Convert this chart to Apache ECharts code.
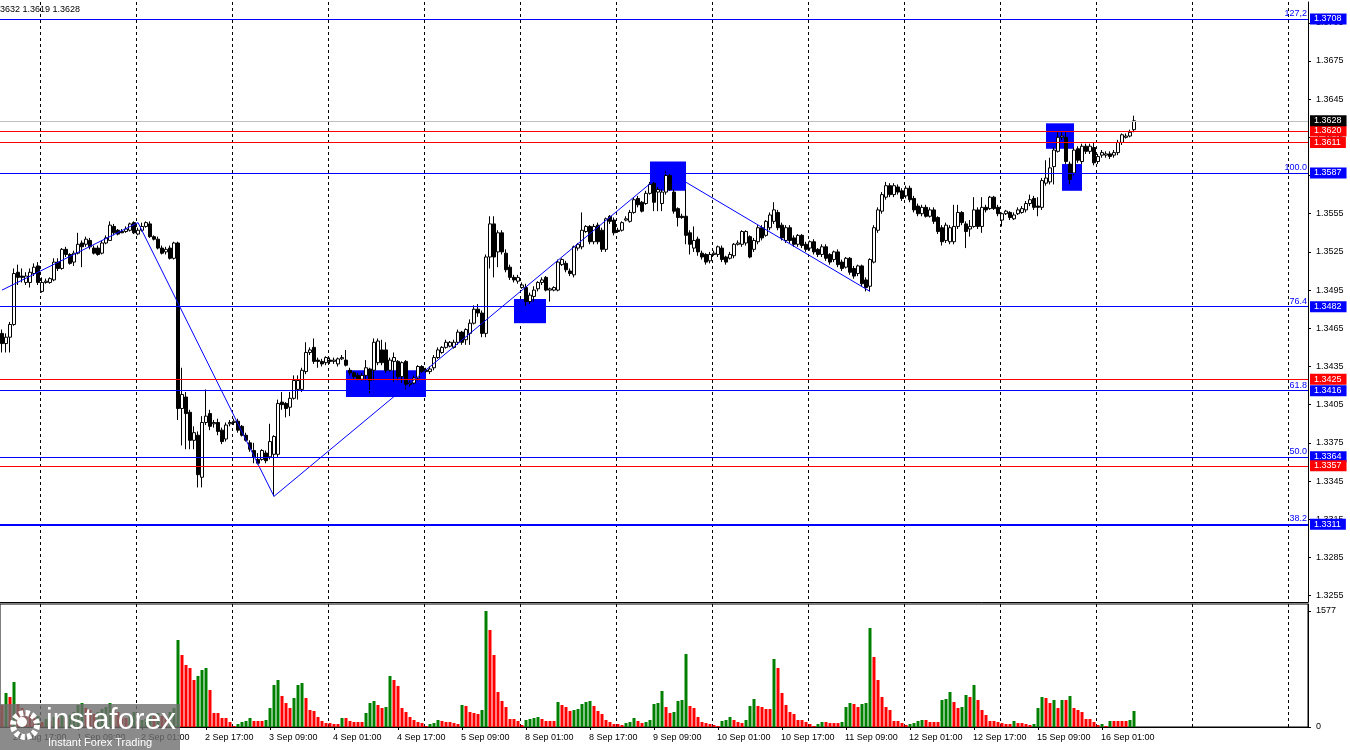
<!DOCTYPE html>
<html><head><meta charset="utf-8">
<script src="https://cdn.jsdelivr.net/npm/echarts@6/dist/echarts.min.js"></script>
<style>html,body{margin:0;padding:0;background:#fff;overflow:hidden}#c{width:1350px;height:750px}</style>
</head><body><div id="c"></div>
<script>
// ---- data: GBPUSD H1 candles [open, close, low, high] ----
const candles = [
[1.3461,1.3453,1.3446,1.3464],[1.3453,1.3458,1.3446,1.3461],[1.3458,1.3468,1.3446,1.3470],[1.3468,1.3508,1.3467,1.3512],
[1.3509,1.3505,1.3499,1.3515],[1.3506,1.3505,1.3501,1.3512],[1.3501,1.3506,1.3499,1.3509],[1.3501,1.3509,1.3497,1.3512],
[1.3508,1.3513,1.3506,1.3516],[1.3514,1.3501,1.3499,1.3517],[1.3494,1.3501,1.3493,1.3505],[1.3501,1.3502,1.3500,1.3504],
[1.3501,1.3504,1.3500,1.3505],[1.3503,1.3517,1.3502,1.3520],[1.3517,1.3512,1.3510,1.3520],[1.3512,1.3527,1.3511,1.3528],
[1.3527,1.3523,1.3521,1.3529],[1.3523,1.3516,1.3515,1.3524],[1.3517,1.3524,1.3514,1.3526],[1.3524,1.3531,1.3523,1.3540],
[1.3532,1.3529,1.3513,1.3534],[1.3531,1.3535,1.3529,1.3537],[1.3534,1.3529,1.3527,1.3536],[1.3528,1.3524,1.3523,1.3530],
[1.3528,1.3523,1.3522,1.3530],[1.3524,1.3532,1.3523,1.3534],[1.3532,1.3536,1.3531,1.3538],[1.3534,1.3546,1.3534,1.3549],
[1.3545,1.3540,1.3538,1.3547],[1.3542,1.3539,1.3538,1.3543],[1.3541,1.3540,1.3540,1.3543],[1.3541,1.3543,1.3540,1.3545],
[1.3542,1.3547,1.3541,1.3548],[1.3548,1.3540,1.3539,1.3549],[1.3539,1.3542,1.3538,1.3544],[1.3542,1.3545,1.3541,1.3548],
[1.3545,1.3548,1.3544,1.3549],[1.3547,1.3537,1.3536,1.3549],[1.3537,1.3535,1.3534,1.3538],[1.3535,1.3528,1.3527,1.3537],
[1.3528,1.3524,1.3523,1.3530],[1.3525,1.3527,1.3523,1.3529],[1.3528,1.3520,1.3519,1.3530],[1.3520,1.3532,1.3519,1.3533],
[1.3532,1.3402,1.3393,1.3533],[1.3402,1.3413,1.3373,1.3434],[1.3411,1.3398,1.3370,1.3415],[1.3399,1.3377,1.3370,1.3401],
[1.3377,1.3383,1.3370,1.3388],[1.3381,1.3350,1.3340,1.3384],[1.3348,1.3391,1.3340,1.3396],[1.3391,1.3396,1.3389,1.3417],
[1.3398,1.3388,1.3385,1.3401],[1.3390,1.3391,1.3387,1.3393],[1.3391,1.3384,1.3381,1.3394],[1.3385,1.3376,1.3374,1.3387],
[1.3378,1.3389,1.3376,1.3391],[1.3390,1.3391,1.3388,1.3393],[1.3391,1.3392,1.3389,1.3394],[1.3392,1.3385,1.3383,1.3394],
[1.3388,1.3381,1.3380,1.3389],[1.3381,1.3377,1.3376,1.3383],[1.3375,1.3370,1.3368,1.3377],[1.3369,1.3364,1.3359,1.3375],
[1.3362,1.3359,1.3358,1.3367],[1.3362,1.3369,1.3361,1.3370],[1.3367,1.3361,1.3359,1.3369],[1.3364,1.3376,1.3362,1.3390],
[1.3366,1.3380,1.3333,1.3381],[1.3366,1.3406,1.3364,1.3409],[1.3407,1.3405,1.3401,1.3415],[1.3406,1.3402,1.3395,1.3407],
[1.3403,1.3410,1.3396,1.3415],[1.3410,1.3424,1.3409,1.3428],[1.3417,1.3424,1.3409,1.3428],[1.3417,1.3432,1.3415,1.3434],
[1.3431,1.3446,1.3429,1.3454],[1.3446,1.3448,1.3444,1.3450],[1.3450,1.3439,1.3437,1.3457],[1.3440,1.3439,1.3434,1.3442],
[1.3439,1.3437,1.3435,1.3441],[1.3438,1.3442,1.3436,1.3443],[1.3440,1.3439,1.3437,1.3442],[1.3439,1.3440,1.3437,1.3442],
[1.3437,1.3441,1.3435,1.3442],[1.3441,1.3442,1.3440,1.3444],[1.3440,1.3436,1.3435,1.3448],[1.3432,1.3430,1.3428,1.3434],
[1.3430,1.3427,1.3425,1.3431],[1.3428,1.3425,1.3424,1.3430],[1.3425,1.3428,1.3424,1.3430],[1.3428,1.3434,1.3424,1.3440],
[1.3433,1.3424,1.3414,1.3434],[1.3432,1.3454,1.3424,1.3457],[1.3438,1.3455,1.3436,1.3457],[1.3448,1.3438,1.3436,1.3456],
[1.3448,1.3432,1.3430,1.3454],[1.3432,1.3440,1.3431,1.3442],[1.3439,1.3442,1.3423,1.3446],[1.3439,1.3427,1.3424,1.3440],
[1.3427,1.3438,1.3422,1.3439],[1.3439,1.3421,1.3417,1.3440],[1.3422,1.3421,1.3419,1.3424],[1.3422,1.3426,1.3421,1.3428],
[1.3426,1.3435,1.3424,1.3436],[1.3435,1.3431,1.3430,1.3436],[1.3432,1.3431,1.3430,1.3434],[1.3431,1.3433,1.3429,1.3435],
[1.3434,1.3442,1.3432,1.3444],[1.3442,1.3448,1.3441,1.3450],[1.3446,1.3450,1.3445,1.3451],[1.3450,1.3454,1.3449,1.3456],
[1.3451,1.3454,1.3450,1.3455],[1.3450,1.3454,1.3449,1.3456],[1.3454,1.3462,1.3452,1.3464],[1.3462,1.3454,1.3452,1.3463],
[1.3456,1.3464,1.3452,1.3465],[1.3461,1.3469,1.3452,1.3472],[1.3469,1.3480,1.3468,1.3483],[1.3480,1.3477,1.3474,1.3484],
[1.3477,1.3461,1.3458,1.3479],[1.3461,1.3521,1.3458,1.3523],[1.3521,1.3547,1.3512,1.3553],[1.3547,1.3521,1.3505,1.3553],
[1.3525,1.3540,1.3513,1.3542],[1.3540,1.3525,1.3523,1.3542],[1.3524,1.3511,1.3509,1.3527],[1.3513,1.3505,1.3503,1.3515],
[1.3505,1.3503,1.3501,1.3507],[1.3502,1.3505,1.3500,1.3507],[1.3497,1.3499,1.3496,1.3501],[1.3497,1.3486,1.3482,1.3500],
[1.3486,1.3491,1.3484,1.3493],[1.3490,1.3495,1.3486,1.3498],[1.3496,1.3501,1.3494,1.3502],[1.3501,1.3503,1.3499,1.3505],
[1.3505,1.3495,1.3494,1.3506],[1.3495,1.3496,1.3486,1.3497],[1.3495,1.3497,1.3494,1.3498],[1.3495,1.3517,1.3494,1.3519],
[1.3515,1.3519,1.3514,1.3520],[1.3516,1.3511,1.3509,1.3518],[1.3510,1.3508,1.3506,1.3512],[1.3507,1.3529,1.3505,1.3530],
[1.3528,1.3531,1.3526,1.3532],[1.3529,1.3542,1.3527,1.3556],[1.3541,1.3545,1.3540,1.3546],[1.3545,1.3533,1.3531,1.3546],
[1.3533,1.3545,1.3531,1.3547],[1.3546,1.3533,1.3531,1.3548],[1.3542,1.3527,1.3525,1.3544],[1.3527,1.3551,1.3525,1.3552],
[1.3553,1.3549,1.3547,1.3554],[1.3550,1.3540,1.3538,1.3552],[1.3542,1.3541,1.3540,1.3544],[1.3542,1.3548,1.3541,1.3549],
[1.3550,1.3551,1.3549,1.3553],[1.3549,1.3556,1.3548,1.3558],[1.3556,1.3566,1.3555,1.3568],[1.3567,1.3562,1.3560,1.3569],
[1.3564,1.3557,1.3556,1.3565],[1.3563,1.3571,1.3562,1.3573],[1.3571,1.3578,1.3570,1.3580],[1.3579,1.3564,1.3557,1.3580],
[1.3572,1.3574,1.3557,1.3576],[1.3563,1.3572,1.3557,1.3574],[1.3572,1.3585,1.3570,1.3589],[1.3585,1.3574,1.3573,1.3587],
[1.3572,1.3557,1.3555,1.3574],[1.3559,1.3552,1.3545,1.3560],[1.3553,1.3552,1.3551,1.3555],[1.3553,1.3538,1.3531,1.3574],
[1.3540,1.3531,1.3523,1.3542],[1.3528,1.3534,1.3525,1.3545],[1.3535,1.3525,1.3522,1.3537],[1.3524,1.3521,1.3519,1.3526],
[1.3523,1.3517,1.3515,1.3524],[1.3518,1.3523,1.3516,1.3525],[1.3523,1.3524,1.3522,1.3526],[1.3523,1.3529,1.3521,1.3530],
[1.3528,1.3519,1.3517,1.3530],[1.3521,1.3517,1.3515,1.3522],[1.3520,1.3523,1.3519,1.3525],[1.3522,1.3531,1.3520,1.3532],
[1.3531,1.3532,1.3530,1.3534],[1.3531,1.3541,1.3529,1.3542],[1.3532,1.3541,1.3530,1.3542],[1.3537,1.3521,1.3520,1.3538],
[1.3527,1.3534,1.3525,1.3536],[1.3533,1.3544,1.3531,1.3546],[1.3544,1.3536,1.3534,1.3546],[1.3538,1.3549,1.3537,1.3550],
[1.3544,1.3554,1.3542,1.3556],[1.3549,1.3558,1.3547,1.3564],[1.3556,1.3544,1.3542,1.3558],[1.3546,1.3536,1.3534,1.3548],
[1.3534,1.3544,1.3532,1.3546],[1.3544,1.3534,1.3532,1.3546],[1.3536,1.3531,1.3529,1.3538],[1.3531,1.3538,1.3529,1.3539],
[1.3538,1.3530,1.3528,1.3539],[1.3531,1.3527,1.3525,1.3533],[1.3528,1.3533,1.3526,1.3534],[1.3533,1.3525,1.3523,1.3535],
[1.3527,1.3523,1.3521,1.3528],[1.3523,1.3529,1.3521,1.3531],[1.3529,1.3520,1.3518,1.3531],[1.3523,1.3517,1.3515,1.3524],
[1.3519,1.3525,1.3517,1.3526],[1.3525,1.3515,1.3513,1.3527],[1.3517,1.3512,1.3510,1.3519],[1.3513,1.3520,1.3512,1.3521],
[1.3520,1.3509,1.3507,1.3521],[1.3512,1.3506,1.3504,1.3514],[1.3508,1.3514,1.3506,1.3515],[1.3514,1.3500,1.3498,1.3515],
[1.3503,1.3497,1.3494,1.3505],[1.3498,1.3519,1.3494,1.3520],[1.3517,1.3544,1.3516,1.3546],[1.3542,1.3558,1.3540,1.3560],
[1.3557,1.3570,1.3555,1.3572],[1.3568,1.3577,1.3566,1.3580],[1.3577,1.3570,1.3568,1.3579],[1.3570,1.3577,1.3568,1.3579],
[1.3576,1.3572,1.3570,1.3578],[1.3573,1.3567,1.3565,1.3575],[1.3569,1.3575,1.3567,1.3577],[1.3575,1.3566,1.3564,1.3577],
[1.3567,1.3558,1.3556,1.3569],[1.3561,1.3555,1.3553,1.3563],[1.3555,1.3560,1.3553,1.3562],[1.3560,1.3553,1.3552,1.3562],
[1.3553,1.3558,1.3552,1.3560],[1.3558,1.3549,1.3547,1.3560],[1.3552,1.3541,1.3539,1.3553],[1.3544,1.3533,1.3530,1.3546],
[1.3534,1.3546,1.3532,1.3548],[1.3533,1.3544,1.3531,1.3546],[1.3533,1.3545,1.3531,1.3562],[1.3545,1.3556,1.3543,1.3562],
[1.3556,1.3548,1.3546,1.3557],[1.3547,1.3541,1.3528,1.3549],[1.3543,1.3545,1.3537,1.3550],[1.3545,1.3558,1.3544,1.3568],
[1.3558,1.3545,1.3543,1.3560],[1.3545,1.3560,1.3540,1.3568],[1.3560,1.3558,1.3556,1.3562],[1.3559,1.3568,1.3558,1.3569],
[1.3568,1.3559,1.3558,1.3569],[1.3560,1.3555,1.3553,1.3562],[1.3550,1.3555,1.3545,1.3556],[1.3555,1.3557,1.3554,1.3558],
[1.3556,1.3552,1.3550,1.3557],[1.3551,1.3554,1.3550,1.3556],[1.3555,1.3558,1.3554,1.3560],[1.3556,1.3559,1.3555,1.3561],
[1.3558,1.3563,1.3556,1.3565],[1.3563,1.3566,1.3561,1.3570],[1.3567,1.3560,1.3558,1.3569],[1.3561,1.3560,1.3553,1.3568],
[1.3560,1.3581,1.3558,1.3583],[1.3579,1.3583,1.3577,1.3597],[1.3580,1.3591,1.3578,1.3599],[1.3592,1.3605,1.3578,1.3607],
[1.3604,1.3615,1.3603,1.3619],[1.3615,1.3616,1.3613,1.3619],[1.3615,1.3596,1.3594,1.3619],[1.3594,1.3582,1.3578,1.3596],
[1.3587,1.3605,1.3585,1.3607],[1.3606,1.3597,1.3595,1.3608],[1.3596,1.3608,1.3594,1.3610],[1.3608,1.3604,1.3602,1.3610],
[1.3604,1.3608,1.3602,1.3610],[1.3607,1.3595,1.3593,1.3611],[1.3596,1.3600,1.3594,1.3602],[1.3601,1.3603,1.3599,1.3605],
[1.3601,1.3602,1.3599,1.3604],[1.3602,1.3600,1.3598,1.3604],[1.3601,1.3603,1.3599,1.3605],[1.3603,1.3611,1.3601,1.3613],
[1.3611,1.3617,1.3609,1.3618],[1.3615,1.3616,1.3614,1.3618],[1.3616,1.3619,1.3615,1.3621],[1.3621,1.3628,1.3619,1.3632]
];
// tick volumes, one per candle
const volumes = [
299,462,408,612,313,258,204,163,122,150,68,109,82,136,122,190,150,163,204,299,
326,258,231,177,204,245,272,326,258,204,150,122,177,204,68,95,109,177,150,190,
150,122,204,258,1183,979,843,802,639,694,775,802,503,190,190,122,122,68,14,41,
68,82,122,82,82,82,95,258,571,639,422,326,258,394,571,598,394,231,218,136,
82,54,54,41,41,122,122,82,68,68,68,190,326,354,299,258,272,694,639,558,
258,204,136,95,68,54,14,41,54,95,82,68,68,54,41,299,286,204,190,177,
231,1577,1319,979,476,354,272,109,109,82,27,95,109,122,136,109,82,82,82,340,
299,272,218,231,245,313,340,354,286,218,177,95,68,41,41,27,54,68,122,82,
54,68,95,313,326,490,272,190,204,354,367,993,286,258,136,68,54,41,27,14,
82,95,136,95,68,54,95,286,381,286,272,245,245,925,802,462,299,204,177,95,
95,68,41,14,41,68,68,54,54,54,68,272,326,313,272,313,326,1346,952,639,
408,272,231,82,82,54,27,41,54,82,95,95,68,68,68,367,381,476,340,258,
272,435,408,571,367,231,163,82,82,68,54,41,41,82,54,54,41,27,41,258,
408,394,326,367,258,367,367,422,258,231,204,109,109,68,27,41,14,82,82,82,
82,82,95,218
];
// time axis: trading days shown, first day starts at 14:00
const days = ['29 Aug','1 Sep','2 Sep','3 Sep','4 Sep','5 Sep','8 Sep','9 Sep','10 Sep','11 Sep','12 Sep','15 Sep','16 Sep','17 Sep','18 Sep'];
const firstHour = 14;
const slotCount = 327;           // bars + empty right margin
// price tick labels on the right scale
const priceTicks = [1.3255,1.3285,1.3315,1.3345,1.3375,1.3405,1.3435,1.3465,1.3495,1.3525,1.3555,1.3585,1.3615,1.3645,1.3675,1.3705];
const volTicks = [0, 1577];
// Fibonacci levels (blue) and their percentages
const fibLevels = [1.3708, 1.3587, 1.3482, 1.3416, 1.3364, 1.3311];
const fibNames  = ['127,2', '100.0', '76.4', '61.8', '50.0', '38.2'];
// horizontal levels (red)
const redLevels = [1.3620, 1.3611, 1.3425, 1.3357];
const lastPrice = 1.3628;
const header = 'GBPUSD,H1  1.3621 1.3632 1.3619 1.3628';
// zigzag vertices [bar index, price]
const zigzag = [[0,1.3495],[34,1.3548],[68,1.3333],[166,1.3589],[217,1.3494]];
// blue zones [fromBar, toBar, top price, bottom price]
const zones = [[86,106,1.3432,1.3411],[128,136,1.3488,1.3469],[162,171,1.3596,1.3573],[261,268,1.3626,1.3606],[265,270,1.3594,1.3573]];

// ---- build ----
const categories = [];
days.forEach((d, k) => {
  for (let h = (k === 0 ? firstHour : 0); h < 24; h++) categories.push(d + ' ' + String(h).padStart(2, '0') + ':00');
});
categories.length = slotCount;
const nBars = candles.length;
const dayStart = (i) => i >= 10 && (i - 10) % 24 === 0;
const labelAt = (i) => i >= 3 && i < nBars && (i - 3) % 16 === 0;
const FONT = 'Liberation Sans';
const BLUE = '#0000ff', RED = '#ff0000';

const chart = echarts.init(document.getElementById('c'), null, {renderer: 'canvas'});
const splitDash = {show: true, interval: (i) => dayStart(i), lineStyle: {color: '#000', width: 1, type: [3, 3]}};

const badgeLabel = (v, bg) => ({show: true, position: 'end', distance: 2, formatter: v.toFixed(4), color: '#fff',
  backgroundColor: bg, padding: [1, 5, 0, 4], fontSize: 9, fontFamily: FONT, lineHeight: 10});
const fibWidth = (v) => (v === 1.3311 ? 2 : 1);

const option = {
  animation: false,
  backgroundColor: '#fff',
  textStyle: {fontFamily: FONT},
  grid: [
    {left: 0, top: 2, width: 1308, height: 600},
    {left: 0, top: 604, width: 1308, height: 123, show: true, borderColor: '#000', borderWidth: 1, backgroundColor: 'transparent'}
  ],
  xAxis: [
    {type: 'category', gridIndex: 0, data: categories, boundaryGap: true,
      axisLine: {show: true, lineStyle: {color: '#000'}}, axisTick: {show: false}, axisLabel: {show: false},
      splitLine: splitDash},
    {type: 'category', gridIndex: 1, data: categories, boundaryGap: true,
      axisLine: {show: true, lineStyle: {color: '#000'}},
      axisTick: {show: true, interval: (i) => labelAt(i), alignWithLabel: true, length: 3, lineStyle: {color: '#000'}},
      axisLabel: {show: true, interval: (i) => labelAt(i), align: 'left', color: '#000', fontSize: 9, fontFamily: FONT, margin: 6, padding: [0, 0, 0, -1]},
      splitLine: splitDash}
  ],
  yAxis: [
    {type: 'value', gridIndex: 0, position: 'right', min: 1.3250, max: 1.37213,
      axisLine: {show: true, lineStyle: {color: '#000'}},
      axisTick: {show: true, length: 3, lineStyle: {color: '#000'}, customValues: priceTicks},
      axisLabel: {show: true, customValues: priceTicks, formatter: (v) => v.toFixed(4), color: '#000', fontSize: 9, fontFamily: FONT, margin: 8},
      splitLine: {show: false}},
    {type: 'value', gridIndex: 1, position: 'right', min: 0, max: 1672,
      axisLine: {show: true, lineStyle: {color: '#000'}},
      axisTick: {show: true, length: 3, lineStyle: {color: '#000'}, customValues: volTicks},
      axisLabel: {show: true, customValues: volTicks, formatter: (v) => String(v), color: '#000', fontSize: 9, fontFamily: FONT, margin: 8},
      splitLine: {show: false}}
  ],
  series: [
    {type: 'line', name: 'zones', xAxisIndex: 0, yAxisIndex: 0, data: [], silent: true,
      markArea: {silent: true, itemStyle: {color: BLUE, opacity: 1},
        data: zones.map(z => [{xAxis: z[0], yAxis: z[2]}, {xAxis: z[1], yAxis: z[3]}])}},
    {type: 'candlestick', name: 'GBPUSD', xAxisIndex: 0, yAxisIndex: 0, data: candles, barWidth: 3, z: 3,
      itemStyle: {color: '#fff', color0: '#000', borderColor: '#000', borderColor0: '#000', borderWidth: 1}},
    {type: 'line', name: 'zigzag', xAxisIndex: 0, yAxisIndex: 0, data: zigzag, symbol: 'none', z: 4, silent: true,
      lineStyle: {color: BLUE, width: 1}},
    // Fibonacci lines with percentage captions
    {type: 'line', name: 'fib', xAxisIndex: 0, yAxisIndex: 0, data: [], silent: true,
      markLine: {silent: true, symbol: ['none', 'none'], precision: 4,
        data: fibLevels.map((v, k) => ({yAxis: v, lineStyle: {color: BLUE, width: fibWidth(v), type: 'solid'},
          label: {show: true, position: 'insideEndTop', distance: [1, 1], formatter: fibNames[k], color: BLUE, fontSize: 9, fontFamily: FONT}}))}},
    // all level lines with price badges on the scale
    {type: 'line', name: 'levels', xAxisIndex: 0, yAxisIndex: 0, data: [], silent: true, clip: false,
      markLine: {silent: true, symbol: ['none', 'none'], precision: 4,
        data: [
          ...fibLevels.map(v => ({yAxis: v, lineStyle: {color: BLUE, width: fibWidth(v), type: 'solid'}, label: badgeLabel(v, BLUE)})),
          ...redLevels.map(v => ({yAxis: v, lineStyle: {color: RED, width: 1, type: 'solid'}, label: badgeLabel(v, RED)})),
          {yAxis: lastPrice, lineStyle: {color: '#c0c0c0', width: 1, type: 'solid'}, label: badgeLabel(lastPrice, '#000')}
        ]}},
    {type: 'bar', name: 'Volumes', xAxisIndex: 1, yAxisIndex: 1, data: volumes, barWidth: 3,
      itemStyle: {color: (p) => (p.dataIndex > 0 && volumes[p.dataIndex] > volumes[p.dataIndex - 1]) ? '#008000' : RED}}
  ],
  graphic: [
    {type: 'text', right: 1270, top: 5, z: 10, style: {text: header, fill: '#000', font: '9px ' + FONT, textAlign: 'right'}},
    {type: 'rect', left: 0, top: 704, z: 100, shape: {width: 180, height: 46}, style: {fill: 'rgba(110,110,110,0.8)'}},
    {type: 'circle', left: 10, top: 710, z: 101, shape: {r: 12}, style: {fill: 'none', stroke: '#fff', lineWidth: 6, lineDash: [4, 2.3]}},
    {type: 'circle', left: 17, top: 717, z: 102, shape: {r: 5}, style: {fill: '#fff'}},
    {type: 'text', left: 46, top: 706, z: 103, style: {text: 'instaforex', fill: '#fff', font: '30px ' + FONT}},
    {type: 'text', left: 48, top: 737, z: 103, style: {text: 'Instant Forex Trading', fill: '#fff', font: '11px ' + FONT}}
  ]
};
chart.setOption(option);
</script>
</body></html>
